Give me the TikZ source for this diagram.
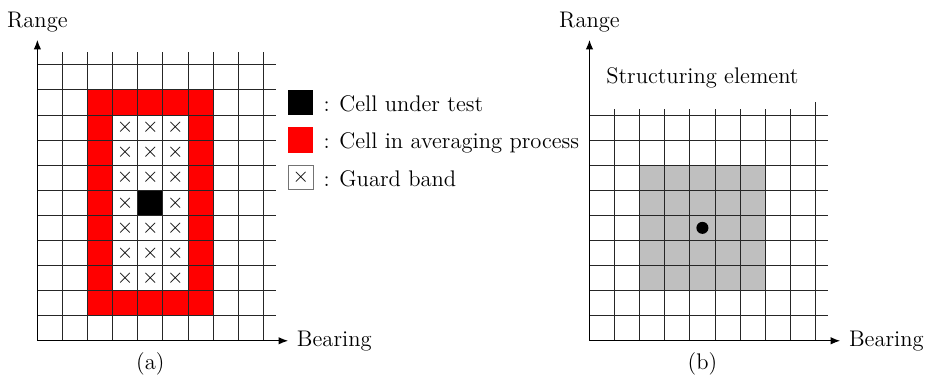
\documentclass[tikz,border=0pt]{standalone}
\usetikzlibrary{arrows.meta}
\begin{document}
\begin{tikzpicture}[x=0.5cm,y=0.5cm,
  every node/.style={font=\fontsize{12.8}{15}\selectfont, inner sep=0pt},
  gridline/.style={line width=0.45pt, black!85},
  axisline/.style={line width=0.8pt, -{Latex[length=5.5pt,width=4.2pt]}},
  keybox/.style={minimum size=0.5cm, inner sep=0pt, outer sep=0pt},
  txtlabel/.style={anchor=base west},
  seframe/.style={fill=black!25}]
\useasboundingbox (-1.49,-1.43) rectangle (35.37,13.58);

% ---------------- (a) CFAR window ----------------
\begin{scope}
  % averaging cells, guard band and cell under test
  \fill[red] (2,1) rectangle (7,10);
  \fill[white] (3,2) rectangle (6,9);
  \fill[black] (4,5) rectangle (5,6);
  % guard band markers
  \foreach \j in {2,...,8} {
    \node (gl-\j) at (3.5,\j+0.5) {$\times$};
    \node (gr-\j) at (5.5,\j+0.5) {$\times$};
  }
  \foreach \j in {2,3,4,6,7,8}
    \node (gm-\j) at (4.5,\j+0.5) {$\times$};
  % grid
  \foreach \i in {1,...,9}
    \draw[gridline] (\i,0) -- (\i,11.5);
  \foreach \j in {1,...,11}
    \draw[gridline] (0,\j) -- (9.5,\j);
  % axes
  \coordinate (oa) at (0,0);
  \coordinate (ya) at (0,12);
  \coordinate (xa) at (10,0);
  \draw[axisline] (oa) -- (ya);
  \draw[axisline] (oa) -- (xa);
  \node[anchor=base] (rangeA) at (0,12.5) {Range};
  \node[txtlabel] (bearA) at (10.33,-0.23) {Bearing};
  \node[anchor=base] (capA) at (4.5,-1.15) {(a)};

  % legend
  \node[keybox, fill=black] (keyCut) at (10.5,9.5) {};
  \node[keybox, fill=red] (keyAvg) at (10.5,8) {};
  \node[keybox, draw=black!55, fill=white, minimum size=0.48cm] (keyGuard) at (10.5,6.5) {$\times$};
  \node[anchor=base] (colCut) at (11.53,9.15) {:};
  \node[anchor=base] (colAvg) at (11.53,7.65) {:};
  \node[anchor=base] (colGuard) at (11.53,6.15) {:};
  \node[txtlabel] (txtCut) at (12.02,9.15) {Cell under test};
  \node[txtlabel] (txtAvg) at (12.02,7.65) {Cell in averaging process};
  \node[txtlabel] (txtGuard) at (12.02,6.15) {Guard band};
\end{scope}

% ---------------- (b) structuring element ----------------
\begin{scope}[xshift=11cm]
  \fill[seframe] (2,2) rectangle (7,7);
  \foreach \i in {1,...,8}
    \draw[gridline] (\i,0) -- (\i,9.25);
  \draw[gridline] (9,0) -- (9,9.5);
  \foreach \j in {1,...,9}
    \draw[gridline] (0,\j) -- (9.5,\j);
  \fill[black] (4.5,4.5) circle (0.24);
  \coordinate (ob) at (0,0);
  \coordinate (yb) at (0,12);
  \coordinate (xb) at (10,0);
  \draw[axisline] (ob) -- (yb);
  \draw[axisline] (ob) -- (xb);
  \node[anchor=base] (rangeB) at (0,12.5) {Range};
  \node[txtlabel] (bearB) at (10.33,-0.23) {Bearing};
  \node[anchor=base] (capB) at (4.5,-1.15) {(b)};
  \node[anchor=base] (seTitle) at (4.5,10.25) {Structuring element};
\end{scope}
\end{tikzpicture}
\end{document}
